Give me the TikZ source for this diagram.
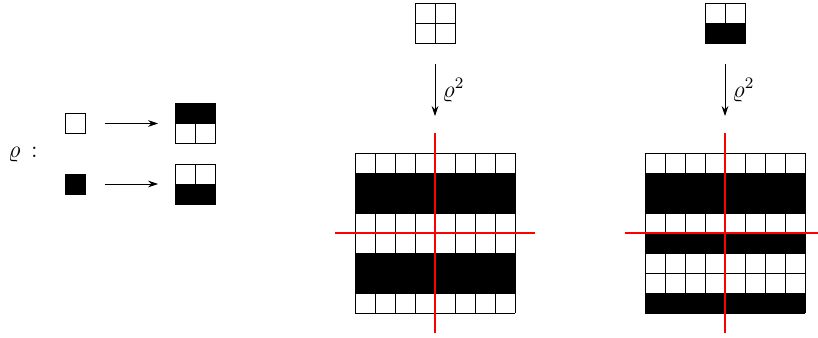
\documentclass[tikz,border=0pt]{standalone}
\usepackage{tikz}
\usetikzlibrary{arrows.meta, positioning}

\begin{document}
\begin{tikzpicture}[x=10pt, y=10pt,
        cell/.style={rectangle, draw, minimum size=10pt, inner sep=0pt, outer sep=0pt},
        blk/.style={rectangle, draw, minimum size=20pt, inner sep=0pt, outer sep=0pt},
        board/.style={rectangle, minimum size=80pt, inner sep=0pt, outer sep=0pt},
        arrow/.style={-{Stealth[length=5pt, width=3.4pt]}},
        axis/.style={draw=red, line width=1pt},
        lbl/.style={font=\large}
    ]
        \useasboundingbox (0,0) rectangle (40.9,-16.85);

        \node[lbl, anchor=base] (rho) at (1.15,-7.85) {$\varrho\,:$};
        \node[cell] (sqW) at (3.775,-6.175) {};
        \node[cell, fill=black] (sqB) at (3.775,-9.2) {};
        \node[blk] (mapW) at (9.775,-6.175) {};
        \node[blk] (mapB) at (9.775,-9.2) {};
        \fill (mapW.north west) rectangle (mapW.east);
        \draw (mapW.west) -- (mapW.east) (mapW.center) -- (mapW.south);
        \fill (mapB.west) rectangle (mapB.south east);
        \draw (mapB.west) -- (mapB.east) (mapB.center) -- (mapB.north);
        \draw[arrow, shorten <=9.5pt, shorten >=8.75pt] (sqW) -- (mapW);
        \draw[arrow, shorten <=9.5pt, shorten >=8.75pt] (sqB) -- (mapB);

        \node[blk] (topL) at (21.75,-1.15) {};
        \draw (topL.west) -- (topL.east) (topL.north) -- (topL.south);
        \node[blk] (topR) at (36.25,-1.15) {};
        \fill (topR.west) rectangle (topR.south east);
        \draw (topR.west) -- (topR.east) (topR.north) -- (topR.center);

        \node[board] (gridL) at (21.75,-11.65) {};
        \node[board] (gridR) at (36.25,-11.65) {};
        \foreach \c [count=\r from 0] in {white,black,black,white,white,black,black,white}
            \fill[\c] ([yshift=-\r*10pt]gridL.north west) rectangle ++(8,-1);
        \foreach \c [count=\r from 0] in {white,black,black,white,black,white,white,black}
            \fill[\c] ([yshift=-\r*10pt]gridR.north west) rectangle ++(8,-1);
        \draw[step=10pt, shift={(gridL.south west)}] (0,0) grid (8,8);
        \draw[step=10pt, shift={(gridR.south west)}] (0,0) grid (8,8);

        \draw[arrow, shorten <=10.5pt, shorten >=18.5pt] (topL) -- node[lbl, pos=0.43, right, xshift=0.3pt] {$\varrho^2$} (gridL);
        \draw[arrow, shorten <=10.5pt, shorten >=18.5pt] (topR) -- node[lbl, pos=0.43, right, xshift=0.3pt] {$\varrho^2$} (gridR);

        \draw[axis] ([yshift=10pt]gridL.north) -- ([yshift=-10pt]gridL.south);
        \draw[axis] ([xshift=-10pt]gridL.west) -- ([xshift=10pt]gridL.east);
        \draw[axis] ([yshift=10pt]gridR.north) -- ([yshift=-10pt]gridR.south);
        \draw[axis] ([xshift=-10pt]gridR.west) -- ([xshift=10pt]gridR.east);
    \end{tikzpicture}
\end{document}
